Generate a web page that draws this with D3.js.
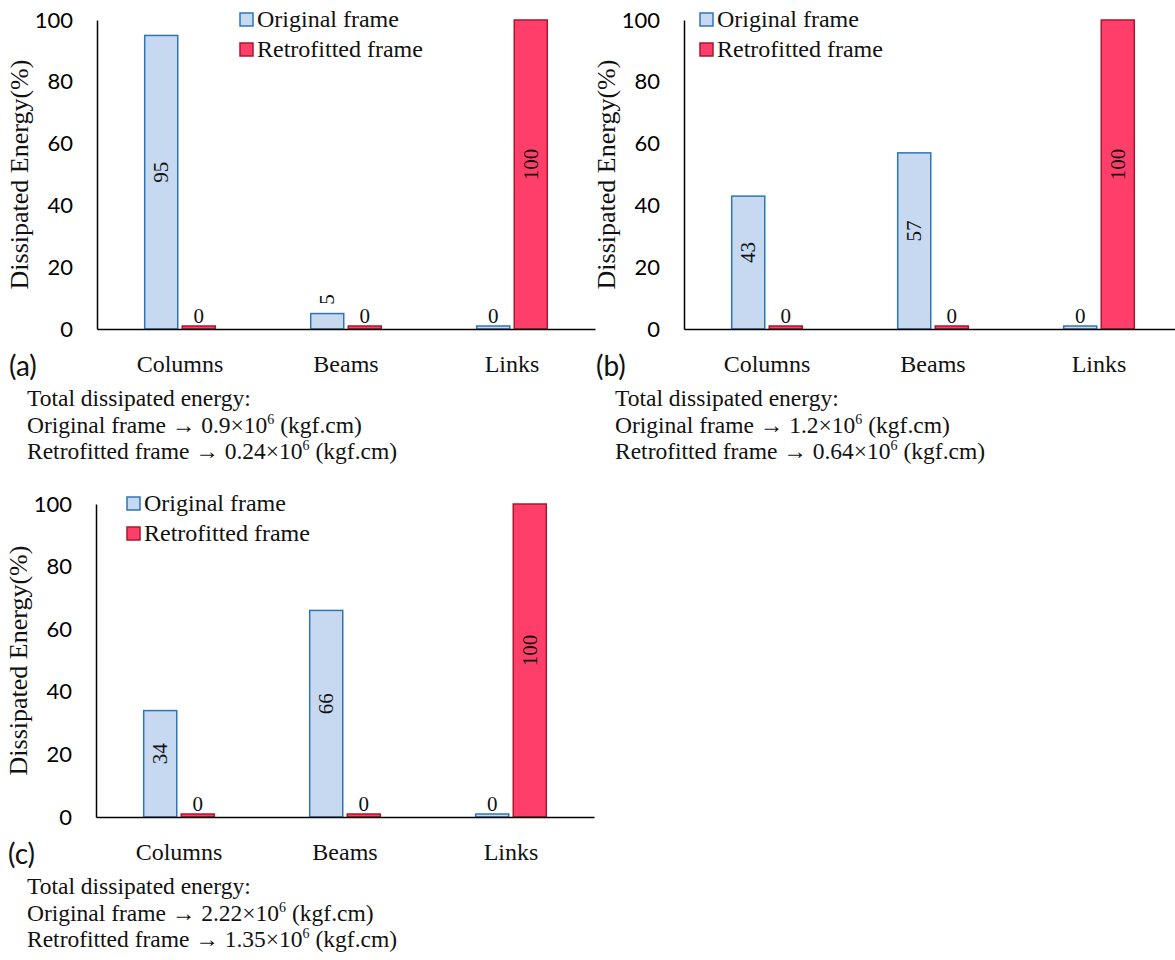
<!DOCTYPE html>
<html>
<head>
<meta charset="utf-8">
<script src="https://cdn.jsdelivr.net/npm/d3@7"></script>
<style>
  body { margin: 0; background: #fff; }
  svg { display: block; }
</style>
</head>
<body>
<svg id="chart"></svg>
<script>
// data
const categories = ["Columns", "Beams", "Links"];
const seriesNames = ["Original frame", "Retrofitted frame"];
const originalA = [95, 5, 0];
const retrofittedA = [0, 0, 100];
const originalB = [43, 57, 0];
const retrofittedB = [0, 0, 100];
const originalC = [34, 66, 0];
const retrofittedC = [0, 0, 100];
const yTicks = [0, 20, 40, 60, 80, 100];
const panelTags = ["(a)", "(b)", "(c)"];
const totalOriginal = ["0.9", "1.2", "2.22"];
const totalRetrofitted = ["0.24", "0.64", "1.35"];

const W = 1175, H = 960;
const svg = d3.select("#chart").attr("width", W).attr("height", H);

const serif = "'Liberation Serif', 'Times New Roman', serif";
const sans = "Lato, 'Open Sans', sans-serif";
const colors = {
  "Original frame": { fill: "#c6d9f0", stroke: "#2e75b6" },
  "Retrofitted frame": { fill: "#ff3f6a", stroke: "#a8182f" }
};

// panel layout
const panels = [
  { tag: panelTags[0], orig: originalA, retro: retrofittedA, ax: 97, top: 20, bottom: 329, legX: 240, legY: 13, noteX: 27, i: 0 },
  { tag: panelTags[1], orig: originalB, retro: retrofittedB, ax: 684, top: 20, bottom: 329, legX: 700, legY: 13, noteX: 615, i: 1 },
  { tag: panelTags[2], orig: originalC, retro: retrofittedC, ax: 96, top: 504, bottom: 817, legX: 127, legY: 497, noteX: 27, i: 2 }
];

function drawPanel(p) {
  const g = svg.append("g");
  const y = d3.scaleLinear().domain([0, 100]).range([p.bottom, p.top]);
  const x0 = d3.scaleBand().domain(categories).range([p.ax, p.ax + 498]);
  const x1 = d3.scaleBand().domain(seriesNames).range([0, x0.bandwidth()])
    .paddingInner(0.12).paddingOuter(1.27);

  const rows = categories.map((c, k) => ({ cat: c, vals: [p.orig[k], p.retro[k]] }));

  // bars
  const grp = g.selectAll("g.cat").data(rows).join("g")
    .attr("transform", d => `translate(${x0(d.cat)},0)`);
  grp.selectAll("rect").data(d => d.vals.map((v, j) => ({ s: seriesNames[j], v: v })))
    .join("rect")
    .attr("x", d => x1(d.s))
    .attr("width", x1.bandwidth())
    .attr("y", d => Math.min(y(d.v), y(0) - 3))
    .attr("height", d => Math.max(y(0) - y(d.v), 3))
    .attr("fill", d => colors[d.s].fill)
    .attr("stroke", d => colors[d.s].stroke)
    .attr("stroke-width", 1.5);

  // data labels
  grp.selectAll("text.val").data(d => d.vals.map((v, j) => ({ s: seriesNames[j], v: v })))
    .join("text")
    .attr("class", "val")
    .attr("font-family", serif)
    .attr("font-size", 21)
    .attr("fill", "#111")
    .attr("text-anchor", "middle")
    .attr("transform", d => {
      const cx = x1(d.s) + x1.bandwidth() / 2;
      if (d.v === 0) return `translate(${cx},${y(0) - 6})`;
      if (d.v < 10) return `translate(${cx + 7},${y(d.v) - 14}) rotate(-90)`;
      return `translate(${cx + 7},${(y(d.v) + y(0)) / 2 - 10}) rotate(-90)`;
    })
    .text(d => d3.format("d")(d.v));

  // axes
  const yAxis = d3.axisLeft(y).tickValues(yTicks).tickSize(0).tickPadding(24).tickSizeOuter(0);
  const ya = g.append("g").attr("transform", `translate(${p.ax},0)`).call(yAxis);
  ya.select(".domain").attr("stroke", "#000").attr("stroke-width", 1.5);
  ya.selectAll("text").attr("font-family", sans).attr("font-size", 22).attr("fill", "#000");

  const xAxis = d3.axisBottom(x0).tickSize(0).tickPadding(26).tickSizeOuter(0);
  const xa = g.append("g").attr("transform", `translate(0,${p.bottom})`).call(xAxis);
  xa.select(".domain").attr("stroke", "#000").attr("stroke-width", 1.5);
  xa.selectAll("text").attr("font-family", serif).attr("font-size", 24).attr("fill", "#111")
    .attr("dy", "0.71em");

  // axis title
  g.append("text")
    .attr("transform", `translate(${p.ax - 69},${(p.top + p.bottom) / 2}) rotate(-90)`)
    .attr("text-anchor", "middle")
    .attr("font-family", serif)
    .attr("font-size", 26)
    .attr("fill", "#111")
    .text("Dissipated Energy(%)");

  // panel tag
  g.append("text")
    .attr("x", p.ax - 88).attr("y", p.bottom + 47)
    .attr("font-family", sans).attr("font-size", 28).attr("fill", "#111")
    .text(p.tag);

  // legend
  const leg = g.append("g").attr("transform", `translate(${p.legX},${p.legY})`);
  seriesNames.forEach((s, j) => {
    leg.append("rect").attr("x", 0).attr("y", j * 30).attr("width", 13).attr("height", 13)
      .attr("fill", colors[s].fill).attr("stroke", colors[s].stroke).attr("stroke-width", 1.5);
    leg.append("text").attr("x", 17).attr("y", j * 30 + 14)
      .attr("font-family", serif).attr("font-size", 24).attr("fill", "#111").text(s);
  });

  // totals note
  const note = g.append("g").attr("font-family", serif).attr("font-size", 23.5).attr("fill", "#111");
  const nb = p.bottom + 77;
  note.append("text").attr("x", p.noteX).attr("y", nb).text("Total dissipated energy:");
  [["Original frame", totalOriginal[p.i]], ["Retrofitted frame", totalRetrofitted[p.i]]].forEach((r, j) => {
    const t = note.append("text").attr("x", p.noteX).attr("y", nb + 26.5 * (j + 1));
    t.append("tspan").text(`${r[0]} \u2192 ${r[1]}\u00d710`);
    t.append("tspan").attr("dy", -9).attr("font-size", 14).text("6");
    t.append("tspan").attr("dy", 9).text(" (kgf.cm)");
  });
}

panels.forEach(drawPanel);
</script>
</body>
</html>
